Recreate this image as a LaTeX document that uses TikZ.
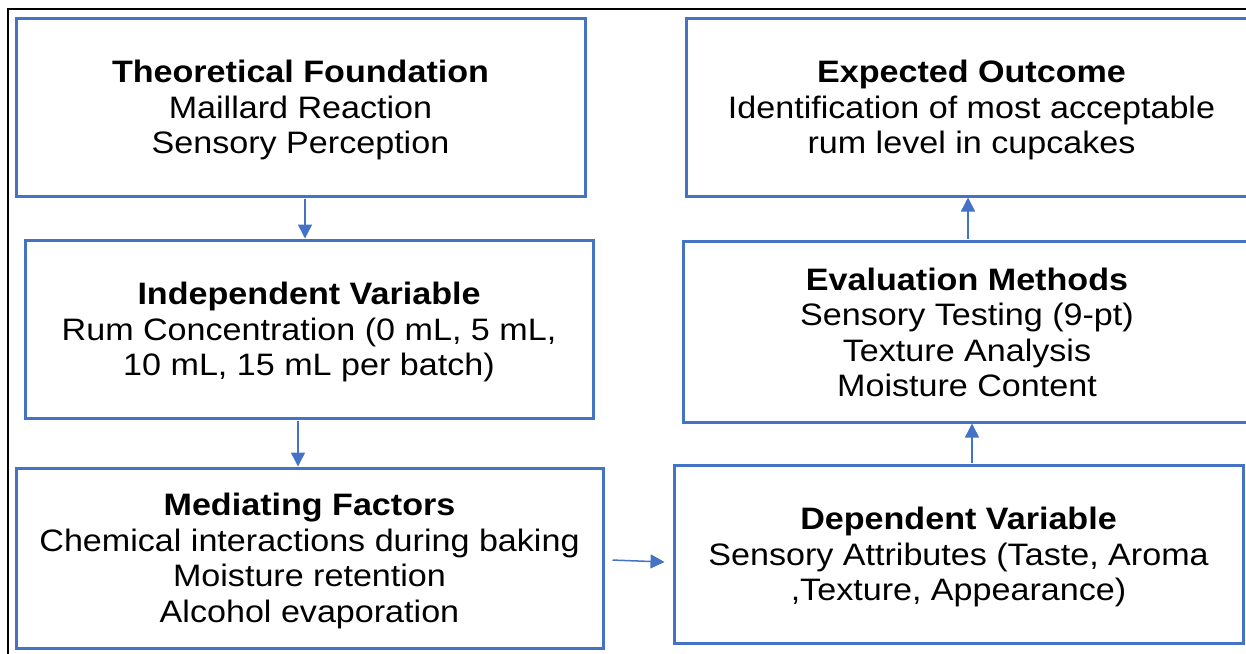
\documentclass[tikz,border=0pt]{standalone}
\usepackage{fontspec}
\setmainfont{Liberation Sans}[FakeStretch=1.1]
\usetikzlibrary{arrows.meta}
\definecolor{boxblue}{HTML}{4472C4}
% invisible strut that lowers a text block a little inside its box
\newcommand{\headstrut}{\rule{0pt}{28.5pt}}
\begin{document}
\begin{tikzpicture}[x=1pt,y=-1pt,
  stage/.style={draw=boxblue, line width=3pt, rectangle, inner sep=0pt,
    align=center, font=\fontsize{31}{35.5}\selectfont},
  flow/.style={draw=boxblue, line width=1.5pt,
    -{Triangle[length=14pt,width=14pt]}, shorten <=1pt}]
\useasboundingbox (0,0) rectangle (1246,653);
\clip (0,0) rectangle (1246,653);
% outer frame
\draw[line width=2pt, black] (8,9) rectangle (1262,700);
% stages
\node[stage, minimum width=569pt, minimum height=178pt] (theory) at (300.5,107)
  {\headstrut\textbf{Theoretical Foundation}\\Maillard Reaction\\Sensory Perception};
\node[stage, minimum width=568pt, minimum height=178pt] (indep) at (309,329)
  {\headstrut\textbf{Independent Variable}\\Rum Concentration (0 mL, 5 mL,\\10 mL, 15 mL per batch)};
\node[stage, minimum width=587pt, minimum height=180pt] (mediate) at (309.5,558)
  {\headstrut\textbf{Mediating Factors}\\Chemical interactions during baking\\Moisture retention\\Alcohol evaporation};
\node[stage, minimum width=569pt, minimum height=178pt] (dep) at (958.5,554)
  {\headstrut\textbf{Dependent Variable}\\Sensory Attributes (Taste, Aroma\\,Texture, Appearance)};
\node[stage, minimum width=568pt, minimum height=181pt] (eval) at (967,331.5)
  {\rule{0pt}{24.5pt}\textbf{Evaluation Methods}\\Sensory Testing (9-pt)\\Texture Analysis\\Moisture Content};
\node[stage, minimum width=571pt, minimum height=178pt] (outcome) at (971.5,107)
  {\headstrut\textbf{Expected Outcome}\\Identification of most acceptable\\rum level in cupcakes};
% connectors
\draw[flow] ([xshift=4.5pt]theory.south) -- ([xshift=-4pt]indep.north);
\draw[flow] ([xshift=-11pt]indep.south) -- ([xshift=-11.5pt]mediate.north);
\draw[flow] ([xshift=7pt,yshift=-2pt]mediate.east) -- ([xshift=-8pt,yshift=-8pt]dep.west);
\draw[flow] ([xshift=13.5pt]dep.north) -- ([xshift=5pt]eval.south);
\draw[flow] ([xshift=1pt]eval.north) -- ([xshift=-3.5pt]outcome.south);
\end{tikzpicture}
\end{document}
